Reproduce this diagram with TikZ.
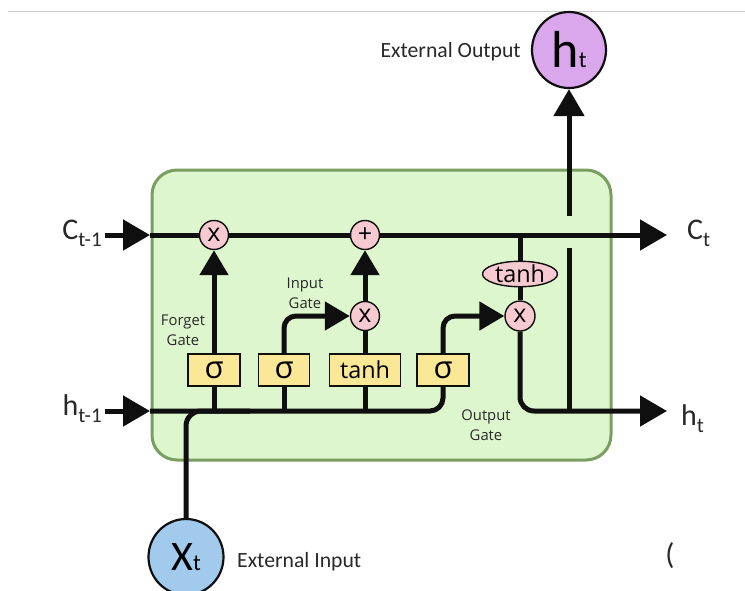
\documentclass[tikz,border=0pt]{standalone}
\usepackage{fontspec}
\setmainfont{Open Sans}
\newfontfamily\calib{Carlito}
\usetikzlibrary{arrows.meta,shapes.geometric,calc}
\definecolor{cellfill}{RGB}{222,246,206}
\definecolor{cellline}{RGB}{122,158,98}
\definecolor{gatefill}{RGB}{250,232,150}
\definecolor{opfill}{RGB}{246,202,208}
\definecolor{outfill}{RGB}{218,166,236}
\definecolor{infill}{RGB}{162,202,236}
\definecolor{ink}{RGB}{15,15,15}
\definecolor{txt}{RGB}{40,40,40}
\newcommand\fsz[1]{\fontsize{#1}{#1}\selectfont}
\begin{document}
\begin{tikzpicture}[x=1pt,y=-1pt,
  flow/.style={line width=5pt, draw=ink},
  arrowflow/.style={flow, -{Triangle[length=27pt,width=30pt]}},
  smallarrow/.style={flow, -{Triangle[length=25pt,width=28pt]}},
  gatebox/.style={draw=ink, line width=1.4pt, fill=gatefill, minimum height=32pt, inner sep=0pt, font=\fsz{31}},
  opcirc/.style={circle, draw=ink, line width=1.4pt, fill=opfill, minimum size=29pt, inner sep=0pt, font=\fsz{25}},
  gatelab/.style={align=center, font=\fontsize{14.8}{20}\selectfont, text=txt, inner sep=0pt},
  extlab/.style={font=\calib\fsz{21.7}, text=txt, inner sep=0pt},
  siglab/.style={font=\calib, text=txt, inner sep=0pt},
  bubble/.style={ellipse, draw=ink, line width=2.2pt, inner sep=0pt, minimum width=74pt, minimum height=76pt, font=\calib}
]
\useasboundingbox (0,0) rectangle (745,590);
\draw[black!20, line width=1pt] (8,11) -- (745,11);

% cell
\node[draw=cellline, line width=3pt, fill=cellfill, rounded corners=25pt,
      minimum width=459pt, minimum height=290pt, inner sep=0pt] (cell) at (381.5,315) {};

% operation nodes
\node[opcirc] (fx) at (214,235) {x};
\node[opcirc] (plus) at (365,235) {+};
\node[opcirc] (ix) at (365,316) {x};
\node[opcirc, minimum size=30pt] (ox) at (520,316) {x};
\node[ellipse, draw=ink, line width=1.4pt, fill=opfill, inner xsep=1.5pt, inner ysep=0pt,
      minimum width=72pt, minimum height=25pt, font=\fsz{23.4}] (te) at (520,274) {tanh};

% gate boxes
\node[gatebox, minimum width=52pt] (s1) at (214,370) {σ};
\node[gatebox, minimum width=51pt] (s2) at (284,370) {σ};
\node[gatebox, minimum width=71pt, font=\fsz{23.4}] (tb) at (365,370) {tanh};
\node[gatebox, minimum width=52pt] (s3) at (443,370) {σ};

% gate labels
\node[gatelab] (forgetlab) at (183,330) {Forget\\Gate};
\node[gatelab] (inputlab) at (305,293) {Input\\Gate};
\node[gatelab] (outputlab) at (486,425) {Output\\Gate};

% external bubbles
\node[bubble, fill=outfill] (htout) at (569,50) {\fsz{52}h\fsz{23}t};
\node[bubble, fill=infill, minimum width=75pt] (xt) at (186,557) {\fsz{42}X\fsz{23}t};
\node[extlab, anchor=east] (extout) at (521,52) {External Output};
\node[extlab, anchor=west] (extin) at (237,562) {External Input};
\node[extlab, font=\calib\fsz{30}] (paren) at (670,556) {(};

% state labels
\node[siglab, anchor=east] (cprevlab) at (102,233) {\fsz{30}C\raisebox{-7pt}{\fsz{21}t-1}};
\node[siglab, anchor=east] (hprevlab) at (102,409) {\fsz{30}h\raisebox{-7pt}{\fsz{21}t-1}};
\node[siglab, anchor=west] (ctlab) at (687,233) {\fsz{30}C\raisebox{-7pt}{\fsz{21}t}};
\node[siglab, anchor=west] (htlab) at (681,419) {\fsz{30}h\raisebox{-7pt}{\fsz{21}t}};

% coordinates
\coordinate (cin) at (150,235);
\coordinate (cout) at (667,235);
\coordinate (cj) at (520,235);
\coordinate (hin) at (150,411);
\coordinate (hout) at (667,411);
\coordinate (hj) at (569,411);
\coordinate (gaplo) at (569,248);
\coordinate (gaphi) at (569,216);
\coordinate (xm) at (250,411);

% inputs
\draw[arrowflow] (cprevlab.east |- cin) ++(3,0) -- (cin);
\draw[arrowflow] (hprevlab.east |- hin) ++(3,0) -- (hin);

% cell state line
\draw[flow] (cin) -- (fx);
\draw[flow] (fx) -- (plus);
\draw[arrowflow] (plus) -- (cout);

% hidden / input line
\draw[flow, rounded corners=13pt] (hin) -| (s3);
\draw[flow, rounded corners=15pt] (xt) |- (xm);
\draw[flow] (hin -| s1) -- (s1);
\draw[flow] (hin -| s2) -- (s2);
\draw[flow] (hin -| tb) -- (tb);

% gates
\draw[smallarrow] (s1) -- (fx);
\draw[smallarrow, rounded corners=12pt] (s2) |- (ix);
\draw[flow] (tb) -- (ix);
\draw[smallarrow] (ix) -- (plus);
\draw[smallarrow, rounded corners=12pt] (s3) |- (ox);

% output
\draw[flow] (cj) -- (te);
\draw[flow] (te) -- (ox);
\draw[arrowflow, rounded corners=14pt] (ox) |- (hout);
\draw[flow] (hj) -- (gaplo);
\draw[arrowflow] (gaphi) -- (htout);
\end{tikzpicture}
\end{document}
